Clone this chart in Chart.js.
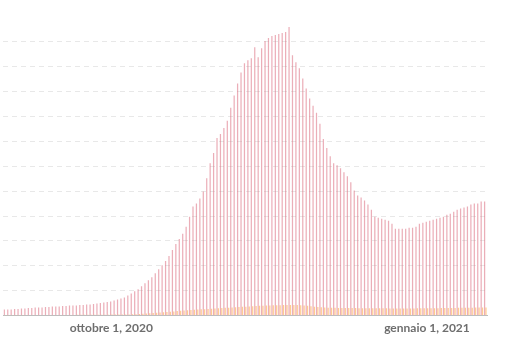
<!DOCTYPE html>
<html>
<head>
<meta charset="utf-8">
<script src="https://cdn.jsdelivr.net/npm/chart.js@4"></script>
<style>
  body { margin: 0; background: #fff; }
  canvas { display: block; }
</style>
</head>
<body>
<canvas id="myChart" width="514" height="342"></canvas>
<script>
// daily categories, 31 agosto 2020 -> 18 gennaio 2021
const monthNames = ["gennaio", "febbraio", "marzo", "aprile", "maggio", "giugno",
  "luglio", "agosto", "settembre", "ottobre", "novembre", "dicembre"];
const firstDay = [2020, 7, 31];
const dayCount = 141;

const tickLabels = ["ottobre 1, 2020", "gennaio 1, 2021"];

// red series
const redValues = [
  122, 122, 122, 132, 132, 142, 142, 152, 152, 162,
  162, 162, 172, 172, 183, 183, 183, 193, 193, 203,
  203, 203, 213, 213, 223, 223, 233, 243, 254, 264,
  274, 284, 304, 324, 345, 365, 406, 446, 487, 527,
  588, 649, 710, 771, 852, 933, 1014, 1095, 1197, 1318,
  1440, 1541, 1643, 1785, 1987, 2190, 2251, 2352, 2494, 2758,
  3062, 3265, 3569, 3650, 3772, 3914, 4178, 4421, 4664, 4887,
  5070, 5131, 5171, 5394, 5192, 5374, 5516, 5577, 5618, 5638,
  5658, 5678, 5699, 5800, 5232, 5090, 4969, 4766, 4563, 4360,
  4218, 4076, 3853, 3549, 3366, 3204, 3062, 3022, 2961, 2880,
  2799, 2677, 2515, 2413, 2373, 2312, 2231, 2129, 1987, 1967,
  1947, 1927, 1906, 1845, 1744, 1744, 1744, 1744, 1764, 1764,
  1785, 1845, 1866, 1886, 1906, 1927, 1947, 1967, 1987, 2028,
  2048, 2089, 2129, 2150, 2170, 2190, 2231, 2251, 2251, 2292,
  2292
];

// orange series
const orangeValues = [
  8, 8, 8, 9, 9, 9, 10, 10, 10, 11,
  11, 11, 12, 12, 12, 13, 13, 13, 14, 14,
  14, 15, 15, 16, 16, 17, 17, 18, 18, 19,
  19, 20, 20, 21, 22, 23, 24, 25, 27, 30,
  35, 40, 45, 50, 55, 60, 66, 72, 78, 84,
  90, 95, 100, 106, 112, 118, 122, 126, 130, 134,
  140, 144, 148, 152, 156, 160, 164, 168, 172, 176,
  180, 184, 188, 192, 196, 200, 202, 204, 206, 208,
  210, 212, 213, 214, 214, 213, 210, 204, 196, 188,
  180, 174, 168, 164, 160, 158, 156, 155, 154, 153,
  152, 152, 151, 150, 150, 149, 148, 148, 147, 147,
  146, 146, 145, 145, 145, 144, 144, 144, 145, 145,
  146, 146, 147, 148, 148, 149, 150, 151, 152, 153,
  154, 155, 156, 157, 158, 159, 160, 161, 162, 162,
  162
];

const yMax = 6000;
const yStep = 500;

function renderChart() {
  const labels = [];
  for (let i = 0; i < dayCount; i++) {
    const d = new Date(firstDay[0], firstDay[1], firstDay[2] + i);
    labels.push(monthNames[d.getMonth()] + " " + d.getDate() + ", " + d.getFullYear());
  }

  const ctx = document.getElementById("myChart");

  new Chart(ctx, {
    type: "bar",
    data: {
      labels: labels,
      datasets: [
        {
          data: redValues,
          backgroundColor: "rgba(220, 115, 132, 0.58)",
        },
        {
          data: orangeValues,
          backgroundColor: "rgba(255, 195, 125, 0.85)",
        },
      ],
    },
    options: {
      responsive: false,
      animation: false,
      layout: { padding: { left: 1.5, right: 27, top: 17, bottom: 2 } },
      plugins: { legend: { display: false }, tooltip: { enabled: false } },
      scales: {
        x: {
          grid: { display: false, drawTicks: false },
          border: { display: true, color: "#bdbdbd" },
          ticks: {
            autoSkip: false,
            maxRotation: 0,
            minRotation: 0,
            padding: 5,
            color: "#6e6e6e",
            font: { family: "Lato", size: 12, weight: "bold" },
            callback: function (value) {
              const lbl = this.getLabelForValue(value);
              return tickLabels.includes(lbl) ? lbl : "";
            },
          },
        },
        y: {
          min: 0,
          max: yMax,
          ticks: { display: false, stepSize: yStep },
          border: { display: false, dash: [5, 4] },
          grid: {
            drawTicks: false,
            color: (c) => (c.tick && (c.tick.value === yMax || c.tick.value === 0) ? "transparent" : "#e8e8e8"),
          },
        },
      },
    },
  });
}

renderChart();
</script>
</body>
</html>
